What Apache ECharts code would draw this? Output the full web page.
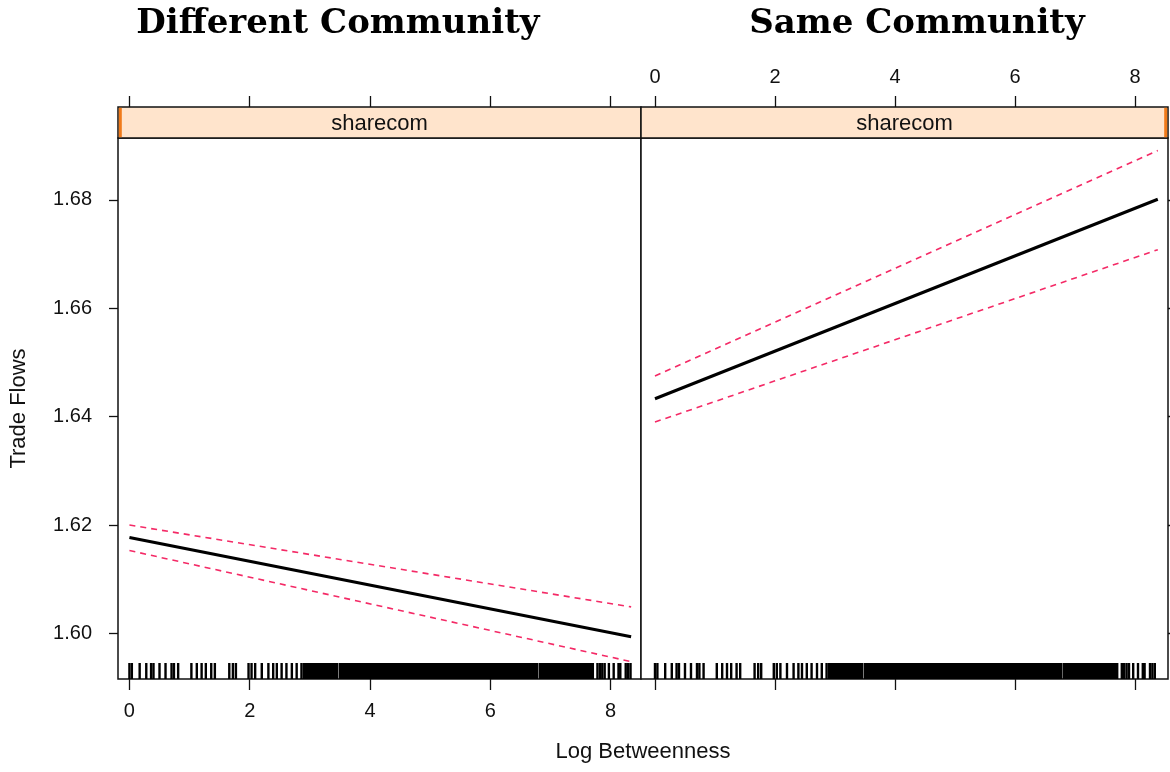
<!DOCTYPE html>
<html>
<head>
<meta charset="utf-8">
<script src="https://cdn.jsdelivr.net/npm/echarts@6/dist/echarts.min.js"></script>
<style>html,body{margin:0;padding:0;background:#fff}#c{width:1170px;height:772px}</style>
</head>
<body>
<div id="c"></div>
<script>
// ---- data ----
const panelTitles = ['Different Community', 'Same Community'];
const stripLabel = 'sharecom';
const xTicks = [0, 2, 4, 6, 8];
const yTicks = [1.60, 1.62, 1.64, 1.66, 1.68];
// fitted effect lines: [x, y]
const diffFit   = [[0, 1.6177], [8.34, 1.5994]];
const diffUpper = [[0, 1.6200], [8.34, 1.6049]];
const diffLower = [[0, 1.6153], [8.34, 1.5948]];
const sameFit   = [[0, 1.6433], [8.38, 1.6801]];
const sameUpper = [[0, 1.6475], [8.38, 1.6891]];
const sameLower = [[0, 1.6390], [8.38, 1.6708]];
// rug: individual observations and dense runs (start, end)
const rugSparse = [0, 0.04, 0.17, 0.28, 0.36, 0.40, 0.5, 0.6, 0.7, 0.74, 0.81, 1.03, 1.12, 1.2, 1.27, 1.36, 1.42,
  1.66, 1.72, 1.77, 1.98, 2.03, 2.09, 2.2, 2.31, 2.39, 2.45, 2.53, 2.61, 2.7, 2.78, 2.86,
  7.78, 7.82, 7.86, 7.9, 7.97, 8.05, 8.13, 8.16, 8.25, 8.29, 8.33];
const rugDense = [[2.9, 3.46], [3.5, 6.78], [6.82, 7.71]];

// ---- layout ----
const P = [{left: 118, width: 523}, {left: 641, width: 527}];
const plotTop = 138, plotBottom = 679, stripTop = 107;
const xRange = [[-0.19, 8.504], [-0.233, 8.55]];
const yMin = 1.5916, yMax = 1.6914;
const red = '#f42a66';
const sans = 'Liberation Sans';

const grids = [], xAxes = [], yAxes = [], series = [];
P.forEach((p, i) => {
  grids.push({left: p.left, top: plotTop, width: p.width, height: plotBottom - plotTop,
    show: true, borderColor: '#111', borderWidth: 1.5, backgroundColor: '#fff'});
});
P.forEach((p, i) => {
  grids.push({left: p.left, top: stripTop, width: p.width, height: plotTop - stripTop,
    show: true, borderColor: '#111', borderWidth: 1.5, backgroundColor: '#ffe4cc'});
});
const tickStyle = {show: true, inside: false, length: 11, lineStyle: {color: '#111', width: 1.3}, customValues: xTicks};
P.forEach((p, i) => {
  xAxes.push({type: 'value', gridIndex: i, position: 'bottom', min: xRange[i][0], max: xRange[i][1],
    axisLine: {show: false, onZero: false}, splitLine: {show: false},
    axisTick: tickStyle,
    axisLabel: {show: i === 0, customValues: xTicks, margin: 22, fontFamily: sans, fontSize: 20, color: '#111'}});
});
P.forEach((p, i) => {
  xAxes.push({type: 'value', gridIndex: 2 + i, position: 'top', min: xRange[i][0], max: xRange[i][1],
    axisLine: {show: false, onZero: false}, splitLine: {show: false},
    axisTick: tickStyle,
    axisLabel: {show: i === 1, customValues: xTicks, margin: 20, fontFamily: sans, fontSize: 20, color: '#111'}});
});
P.forEach((p, i) => {
  yAxes.push({type: 'value', gridIndex: i, position: i === 0 ? 'left' : 'right', min: yMin, max: yMax,
    axisLine: {show: false, onZero: false}, splitLine: {show: false},
    axisTick: {show: true, inside: false, length: 9, lineStyle: {color: '#111', width: 1.3}, customValues: yTicks},
    axisLabel: {show: i === 0, customValues: yTicks, margin: 26, fontFamily: sans, fontSize: 20, color: '#111',
      formatter: v => v.toFixed(2)},
    name: i === 0 ? 'Trade Flows' : '', nameLocation: 'middle', nameGap: 88, nameRotate: 90,
    nameTextStyle: {fontFamily: sans, fontSize: 22, color: '#111'}});
});
P.forEach((p, i) => {
  yAxes.push({type: 'value', gridIndex: 2 + i, min: 0, max: 1, show: false});
});

function line(data, i, dashed) {
  return {type: 'line', xAxisIndex: i, yAxisIndex: i, data: data, showSymbol: false, symbol: 'none',
    silent: true, animation: false, z: dashed ? 3 : 4,
    lineStyle: dashed ? {color: red, width: 1.6, type: [6, 5]} : {color: '#000', width: 3}};
}
[[diffFit, diffUpper, diffLower], [sameFit, sameUpper, sameLower]].forEach((set, i) => {
  series.push(line(set[1], i, true), line(set[2], i, true), line(set[0], i, false));
});

// rug
const rugData = rugSparse.map(v => [v, v]).concat(rugDense);
P.forEach((p, i) => {
  series.push({type: 'custom', xAxisIndex: i, yAxisIndex: i, data: rugData, silent: true, animation: false, z: 2,
    encode: {x: [0, 1]},
    renderItem: function (params, api) {
      const a = api.coord([api.value(0), yMin]);
      const b = api.coord([api.value(1), yMin]);
      const w = Math.max(2.4, b[0] - a[0] + 2);
      return {type: 'rect', shape: {x: a[0] - 1.2, y: a[1] - 16, width: w, height: 16},
        style: {fill: '#000'}};
    }});
});

const graphics = [];
P.forEach((p, i) => {
  graphics.push({type: 'text', x: p.left + p.width / 2, y: (stripTop + plotTop) / 2 + 1, z: 20,
    style: {text: stripLabel, fontFamily: sans, fontSize: 22, fill: '#111', textAlign: 'center', textVerticalAlign: 'middle'}});
  graphics.push({type: 'rect', shape: {x: i === 0 ? p.left + 0.8 : p.left + p.width - 3.8, y: stripTop + 0.8, width: 3, height: plotTop - stripTop - 1.6},
    style: {fill: '#f07a1a'}, z: 10});
});
graphics.push({type: 'text', x: 643, y: 752, z: 20,
  style: {text: 'Log Betweenness', fontFamily: sans, fontSize: 22, fill: '#111', textAlign: 'center', textVerticalAlign: 'middle'}});
P.forEach((p, i) => {
  graphics.push({type: 'text', x: i === 0 ? 338 : 917, y: 24, z: 20,
    style: {text: panelTitles[i], fontFamily: 'DejaVu Serif', fontWeight: 'bold', fontSize: 34, fill: '#000', textAlign: 'center', textVerticalAlign: 'middle'}});
});

const chart = echarts.init(document.getElementById('c'), null, {renderer: 'canvas'});
chart.setOption({
  animation: false,
  backgroundColor: '#fff',
  grid: grids, xAxis: xAxes, yAxis: yAxes, series: series, graphic: graphics
});
</script>
</body>
</html>
